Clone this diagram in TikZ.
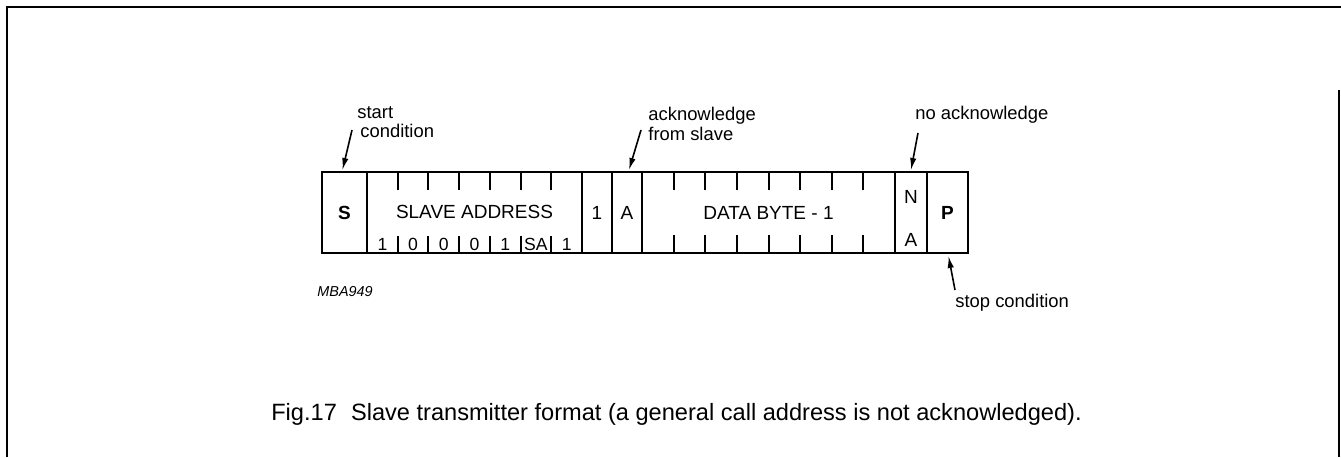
\documentclass[tikz,border=0pt]{standalone}
\usepackage{fontspec}
\setmainfont{Liberation Sans}
\usetikzlibrary{arrows.meta}
\begin{document}
\begin{tikzpicture}[x=0.5pt,y=-0.5pt,
  cell/.style={draw, line width=1pt, minimum height=40.5pt, inner sep=0pt, outer sep=0pt, anchor=west, font=\fontsize{9.5pt}{11pt}\selectfont},
  lbl/.style={inner sep=0pt, font=\fontsize{9.5pt}{11pt}\selectfont},
  bit/.style={inner sep=0pt, font=\fontsize{8.8pt}{10pt}\selectfont},
  note/.style={inner sep=0pt, align=left, anchor=west, font=\fontsize{9.2pt}{10pt}\selectfont},
  tick/.style={line width=1pt},
  arr/.style={line width=0.8pt, -{Latex[length=6pt,width=3.2pt]}},
  frame/.style={line width=1.4pt}]
\useasboundingbox (0,0) rectangle (1341,457);
% frame
\draw[frame] (7,457) -- (7,7) -- (1341,7);
\draw[frame] (1339,90) -- (1339,457);
% cells
\node[cell, minimum width=22.5pt] (S) at (322,212.5) {\bfseries S};
\node[cell, minimum width=107.5pt] (SA) at (367,212.5) {};
\node[cell, minimum width=15pt] (one) at (582,212.5) {1};
\node[cell, minimum width=15pt] (A) at (612,212.5) {A};
\node[cell, minimum width=126.5pt] (DB) at (642,212.5) {DATA BYTE - 1};
\node[cell, minimum width=16pt] (N) at (895,212.5) {};
\node[cell, minimum width=20.5pt] (P) at (927,212.5) {\bfseries P};
\node[lbl] (salbl) at (474.5,212) {SLAVE ADDRESS};
\node[lbl] (nlbl) at (911,197) {N};
\node[lbl] (albl) at (911,240) {A};
% slave address ticks
\foreach \i in {1,...,6}{
  \draw[tick] ({367+\i*30.714},172) -- ++(0,18);
  \draw[tick] ({367+\i*30.714},253) -- ++(0,-17);
}
% bits
\foreach \t [count=\i from 0] in {1,0,0,0,1,SA,1}{
  \node[bit] (b\i) at ({382.4+\i*30.714},244) {\t};
}
% data byte ticks
\foreach \i in {1,...,7}{
  \draw[tick] ({642+\i*31.625},172) -- ++(0,18);
  \draw[tick] ({642+\i*31.625},253) -- ++(0,-18);
}
% annotations
\node[note] (start) at (357,122.5) {start\\[-0.5pt]\hspace*{1.5pt}condition};
\node[note] (ack) at (648,124) {acknowledge\\from slave};
\node[note] (nack) at (915,115) {no acknowledge};
\node[note] (stop) at (955,303) {stop condition};
\node[inner sep=0pt, anchor=west, font=\fontsize{7.2pt}{8pt}\selectfont\itshape] (code) at (317,292) {MBA949};
\coordinate (st) at (352,130);
\coordinate (ak) at (641,130);
\coordinate (nk) at (918,133);
\coordinate (sp) at (955,290);
\draw[arr] (st) -- ([xshift=-1pt,yshift=1pt]S.north);
\draw[arr] (ak) -- ([xshift=1pt,yshift=1pt]A.north);
\draw[arr] (nk) -- ([yshift=1pt]N.north);
\draw[arr] (sp) -- ([xshift=0.5pt,yshift=-1.5pt]P.south);
% caption
\node[inner sep=0pt, font=\fontsize{11.8pt}{13pt}\selectfont] (cap) at (676.5,414) {Fig.17\hspace{0.6em}Slave transmitter format (a general call address is not acknowledged).};
\end{tikzpicture}
\end{document}
